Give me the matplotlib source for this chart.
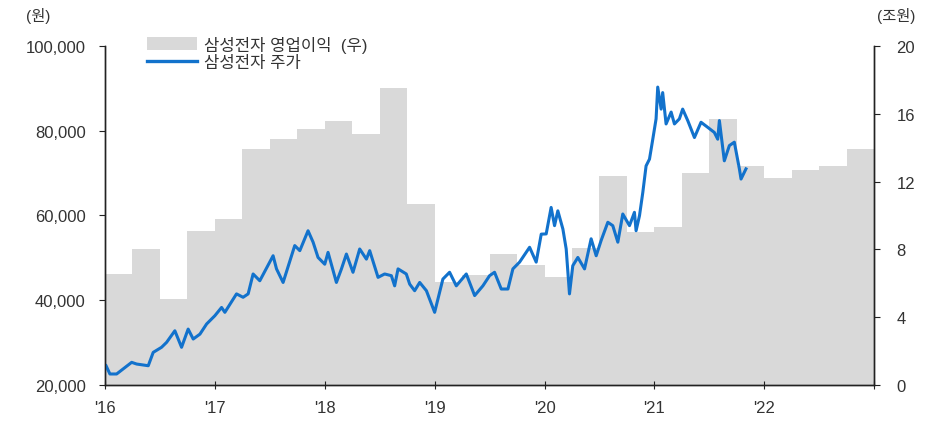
import matplotlib
matplotlib.use("Agg")
import matplotlib.pyplot as plt
from matplotlib.patches import Patch
from matplotlib.lines import Line2D
import numpy as np

plt.rcParams['font.family'] = ['Liberation Sans', 'Noto Sans CJK KR', 'DejaVu Sans']

# quarterly operating profit (조원), 2016 Q1 .. 2022 Q4
quarters = np.arange(2016, 2023, 0.25)
op_profit = [6.55, 8.0, 5.1, 9.1,
             9.8, 13.9, 14.5, 15.1,
             15.6, 14.8, 17.5, 10.7,
             6.1, 6.5, 7.7, 7.1,
             6.4, 8.1, 12.3, 9.0,
             9.3, 12.5, 15.7, 12.9,
             12.2, 12.7, 12.9, 13.9]

# stock price (원) as (decimal year, price)
price_pts = [
    (2016.01, 24550), (2016.045, 22600), (2016.106, 22600), (2016.243, 25350),
    (2016.288, 24950), (2016.394, 24550), (2016.439, 27700), (2016.515, 28900),
    (2016.561, 30070), (2016.636, 32800), (2016.697, 28900), (2016.757, 33200),
    (2016.803, 30850), (2016.864, 32000), (2016.925, 34400), (2017.0, 36350),
    (2017.061, 38300), (2017.091, 37150), (2017.197, 41500), (2017.257, 40700),
    (2017.303, 41500), (2017.348, 46200), (2017.409, 44600), (2017.53, 50500),
    (2017.561, 47400), (2017.621, 44200), (2017.727, 52900), (2017.773, 51700),
    (2017.848, 56400), (2017.894, 53700), (2017.939, 50100), (2018.0, 48500),
    (2018.03, 51300), (2018.106, 44200), (2018.152, 47400), (2018.197, 50900),
    (2018.257, 46600), (2018.318, 52100), (2018.379, 49700), (2018.409, 51700),
    (2018.485, 45400), (2018.545, 46200), (2018.606, 45800), (2018.636, 43400),
    (2018.667, 47400), (2018.742, 46200), (2018.773, 43800), (2018.818, 42250),
    (2018.864, 44200), (2018.925, 42250), (2019.0, 37150), (2019.075, 45000),
    (2019.136, 46600), (2019.197, 43400), (2019.288, 46200), (2019.364, 41100),
    (2019.439, 43400), (2019.5, 45800), (2019.545, 46600), (2019.606, 42650),
    (2019.667, 42650), (2019.712, 47400), (2019.773, 49000), (2019.864, 52500),
    (2019.924, 49000), (2019.97, 55600), (2020.015, 55650), (2020.06, 61900),
    (2020.091, 57600), (2020.121, 61100), (2020.167, 56800), (2020.197, 52100),
    (2020.227, 41500), (2020.257, 48150), (2020.303, 50100), (2020.364, 47400),
    (2020.424, 54500), (2020.47, 50500), (2020.515, 54100), (2020.576, 58400),
    (2020.621, 57600), (2020.667, 53700), (2020.712, 60350), (2020.773, 57600),
    (2020.818, 60750), (2020.833, 56400), (2020.864, 59950), (2020.894, 65400),
    (2020.924, 71700), (2020.955, 73300), (2020.985, 78000), (2021.015, 82800),
    (2021.03, 90300), (2021.061, 85100), (2021.075, 89000), (2021.106, 81600),
    (2021.152, 84400), (2021.182, 81600), (2021.227, 82800), (2021.257, 85100),
    (2021.303, 82400), (2021.364, 78400), (2021.424, 82000), (2021.485, 80800),
    (2021.545, 79600), (2021.576, 78000), (2021.591, 82400), (2021.636, 72900),
    (2021.682, 76500), (2021.727, 77300), (2021.773, 71000), (2021.788, 68600),
    (2021.833, 71000),
]
price_t = [p[0] for p in price_pts]
price = [p[1] for p in price_pts]

year_ticks = list(range(2016, 2024))
year_labels = ["'16", "'17", "'18", "'19", "'20", "'21", "'22", ""]

fig = plt.figure(figsize=(9.33, 4.27), dpi=100)
ax1 = fig.add_axes([0.1125, 0.096, 0.8245, 0.794])
ax2 = ax1.twinx()

ax2.bar(quarters, op_profit, width=0.25, align='edge', color='#d9d9d9', linewidth=0)
ax1.plot(price_t, price, color='#1272cc', linewidth=2.2)

ax1.set_zorder(ax2.get_zorder() + 1)
ax1.patch.set_visible(False)

ax1.set_xlim(2016, 2023)
ax1.set_ylim(20000, 100000)
ax2.set_ylim(0, 20)
ax1.set_yticks(range(20000, 100001, 20000))
ax1.set_yticklabels([f"{v:,}" for v in range(20000, 100001, 20000)])
ax2.set_yticks(range(0, 21, 4))
ax1.set_xticks(year_ticks)
ax1.set_xticklabels(year_labels)

txt = '#333333'
for a in (ax1, ax2):
    a.spines['top'].set_visible(False)
    for s in ('left', 'right', 'bottom'):
        a.spines[s].set_color('#222222')
        a.spines[s].set_linewidth(1.0)
ax1.tick_params(axis='y', direction='out', length=4, labelsize=12, colors=txt, pad=10)
ax2.tick_params(axis='y', direction='out', length=4, labelsize=12, colors=txt, pad=12)
ax1.tick_params(axis='x', direction='inout', length=6, labelsize=12, colors=txt, pad=8)
for a in (ax1, ax2):
    a.tick_params(color='#222222')

fig.text(0.041, 0.962, '(원)', fontsize=11, color=txt, ha='center', va='center')
fig.text(0.961, 0.962, '(조원)', fontsize=11, color=txt, ha='center', va='center')

handles = [Patch(facecolor='#d9d9d9', edgecolor='none'),
           Line2D([0], [0], color='#1272cc', linewidth=2.4)]
ax1.legend(handles, ['삼성전자 영업이익  (우)', '삼성전자 주가'], loc='upper left',
           bbox_to_anchor=(0.035, 1.075), frameon=False, fontsize=12,
           handlelength=3.0, handleheight=0.8, handletextpad=0.4, labelspacing=0.15,
           labelcolor=txt)

fig.savefig('out.png', dpi=100)
